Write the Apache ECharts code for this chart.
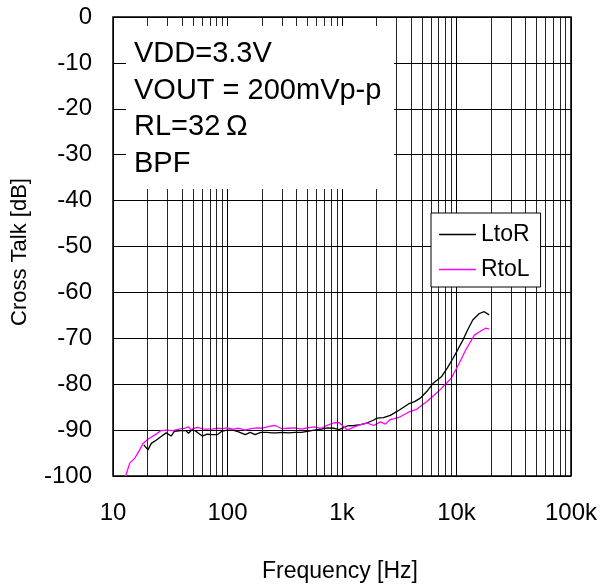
<!DOCTYPE html>
<html><head><meta charset="utf-8">
<script src="https://cdn.jsdelivr.net/npm/echarts@6/dist/echarts.min.js"></script>
<style>html,body{margin:0;padding:0;background:#fff}#c{width:600px;height:586px}</style>
</head><body><div id="c"></div>
<script>
var freqL = [18.6, 20.2, 21.6, 23.8, 26.3, 29.1, 32.2, 34.3, 39.2, 43.3, 45.6, 49.4, 54.7, 60.2, 66.5, 73.6, 81.3, 90, 100, 112, 125, 143, 158, 174, 195, 220, 245, 268, 300, 340, 390, 441, 500, 570, 658, 750, 855, 946, 1115, 1282, 1455, 1666, 1897, 2027, 2300, 2642, 2900, 3222, 3805, 4300, 4795, 5500, 6253, 7385, 8300, 9310, 10300, 11370, 12500, 13870, 15820, 17470, 19300];
var valL = [-93.2, -94.3, -92.9, -92.2, -91.4, -90.6, -91.3, -90.3, -90.1, -90.1, -90.7, -89.8, -90.5, -91.3, -90.9, -91.0, -91.0, -90.2, -90.0, -90.0, -90.4, -91.0, -90.5, -91.0, -90.5, -90.5, -90.6, -90.6, -90.5, -90.6, -90.5, -90.5, -90.3, -90.0, -89.8, -89.5, -89.6, -89.9, -89.1, -89.0, -88.8, -88.4, -87.8, -87.4, -87.3, -86.8, -86.2, -85.5, -84.3, -83.8, -83.1, -81.6, -79.8, -78.4, -76.5, -74.4, -72.4, -70.4, -68.2, -66.0, -64.6, -64.2, -64.9];
var freqR = [12.9, 14.0, 15.5, 17.1, 18.3, 20.2, 23.1, 26.3, 29.5, 33.2, 37.9, 41.8, 45.6, 47.8, 51.1, 54.7, 62.3, 73.6, 81.3, 90, 100, 112, 125, 143, 160, 180, 200, 230, 260, 300, 340, 390, 441, 500, 570, 658, 750, 855, 946, 1115, 1282, 1455, 1666, 1897, 2170, 2397, 2642, 3105, 3805, 4470, 5480, 7140, 8990, 10540, 12060, 14330, 16840, 18010, 19300];
var valR = [-100, -97.2, -96.1, -94.3, -92.9, -92.0, -91.1, -90.1, -90.0, -90.1, -89.8, -89.6, -89.3, -89.9, -89.6, -89.4, -89.8, -89.8, -89.6, -89.7, -89.5, -89.8, -89.6, -90.0, -89.7, -89.5, -89.6, -89.2, -89.0, -89.7, -89.6, -89.5, -89.8, -89.5, -89.3, -89.6, -88.9, -88.4, -88.4, -90.0, -89.3, -88.8, -88.5, -89.0, -88.2, -88.7, -87.7, -87.3, -86.1, -85.5, -83.8, -81.3, -78.7, -75.5, -72.5, -69.3, -68.2, -67.8, -68.0];
var xTickLabels = {10: '10', 100: '100', 1000: '1k', 10000: '10k', 100000: '100k'};
var seriesNames = ['LtoR', 'RtoL'];
var noteLines = ['VDD=3.3V', 'VOUT = 200mVp-p', 'RL=32\u2009\u03A9', 'BPF'];

var minorGrid = [];
[10, 100, 1000, 10000].forEach(function (d) {
  for (var k = 2; k <= 9; k++) minorGrid.push({xAxis: d * k});
});
function pairs(f, v) { return f.map(function (x, i) { return [x, v[i]]; }); }

var FONT = '"Liberation Sans", Arial, sans-serif';
var chart = echarts.init(document.getElementById('c'), null, {renderer: 'canvas'});
var graphics = [
  {type: 'rect', shape: {x: 126, y: 26, width: 268, height: 163}, style: {fill: '#fff'}, z: 10, silent: true}
];
noteLines.forEach(function (t, i) {
  graphics.push({type: 'text', x: 134, y: 54 + i * 36.7, z: 11, silent: true,
    style: {text: t, font: '29px ' + FONT, fill: '#000', textVerticalAlign: 'middle'}});
});
graphics.push({type: 'text', x: 20, y: 252, rotation: Math.PI / 2, z: 11, silent: true,
  style: {text: 'Cross Talk [dB]', font: '22px ' + FONT, fill: '#000', textAlign: 'center', textVerticalAlign: 'middle'}});
graphics.push({type: 'text', x: 340, y: 572, z: 11, silent: true,
  style: {text: 'Frequency [Hz]', font: '23px ' + FONT, fill: '#000', textAlign: 'center', textVerticalAlign: 'middle'}});

chart.setOption({
  animation: false,
  backgroundColor: '#fff',
  grid: {left: 113, top: 17, width: 463, height: 459, show: true, borderColor: '#000', borderWidth: 1.5, backgroundColor: 'transparent'},
  legend: {
    left: 431, top: 213, orient: 'vertical',
    data: seriesNames.map(function (n) { return {name: n, icon: 'rect'}; }),
    itemWidth: 37, itemHeight: 1.5, itemGap: 12,
    padding: [10, 11, 6, 8],
    backgroundColor: '#fff', borderColor: '#000', borderWidth: 1, borderRadius: 0,
    textStyle: {fontFamily: FONT, fontSize: 23, color: '#000'},
    z: 20
  },
  xAxis: {
    type: 'log', logBase: 10, min: 10, max: 100000,
    axisLine: {show: false}, axisTick: {show: false},
    axisLabel: {margin: 25, fontFamily: FONT, fontSize: 24, color: '#000',
      formatter: function (v) { return xTickLabels[Math.round(v)] || ''; }},
    splitLine: {show: true, lineStyle: {color: '#000', width: 1}},
    minorTick: {show: false}, minorSplitLine: {show: false}
  },
  yAxis: {
    type: 'value', min: -100, max: 0, interval: 10,
    axisLine: {show: false}, axisTick: {show: false},
    axisLabel: {margin: 21, fontFamily: FONT, fontSize: 24, color: '#000'},
    splitLine: {show: true, lineStyle: {color: '#000', width: 1}}
  },
  series: [
    {name: seriesNames[0], type: 'line', data: pairs(freqL, valL), showSymbol: false, symbol: 'none',
      lineStyle: {color: '#000', width: 1.3}, itemStyle: {color: '#000'}, z: 3,
      markLine: {silent: true, symbol: 'none', label: {show: false}, animation: false,
        lineStyle: {color: '#000', width: 1, type: 'solid', opacity: 0.85}, data: minorGrid}},
    {name: seriesNames[1], type: 'line', data: pairs(freqR, valR), showSymbol: false, symbol: 'none',
      lineStyle: {color: '#ff00ff', width: 1.3}, itemStyle: {color: '#ff00ff'}, z: 4}
  ],
  graphic: graphics
});
</script></body></html>
